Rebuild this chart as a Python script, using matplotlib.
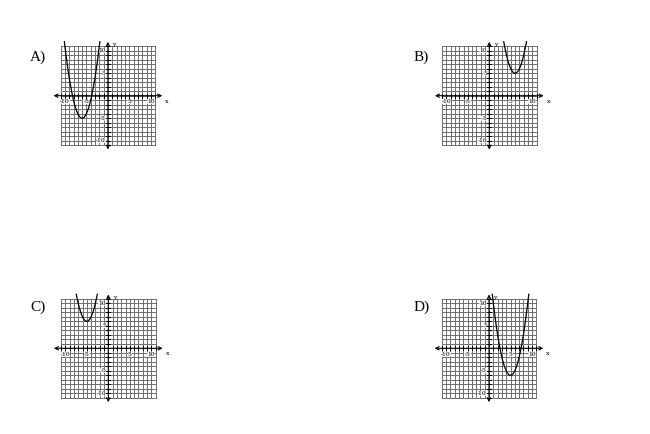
import numpy as np
import matplotlib
matplotlib.use("Agg")
import matplotlib.pyplot as plt

# answer choices: y = a*(x - h)^2 + k
choices = ["A)", "B)", "C)", "D)"]
vert_h = [-6, 6, -5, 5]
vert_k = [-5, 5, 6, -6]
coef_a = [1, 1, 1, 1]
tick_vals = [-10, -5, 5, 10]
tick_text = ["-10", "-5", "5", "10"]

W, H = 650, 434
sx, sy = 4.3, 4.5          # pixels per unit
origins = [(107.9, 95.7), (489.3, 95.7), (108.3, 348.3), (489.0, 348.3)]
letter_pos = [(30, 57), (414, 57), (30, 307), (414, 307)]
LIM = 14

fig = plt.figure(figsize=(W / 100, H / 100), dpi=100)
fig.patch.set_facecolor("white")

for i in range(4):
    ox, oy = origins[i]
    left = (ox - LIM * sx) / W
    bottom = (H - (oy + LIM * sy)) / H
    ax = fig.add_axes([left, bottom, 2 * LIM * sx / W, 2 * LIM * sy / H])
    ax.set_xlim(-LIM, LIM)
    ax.set_ylim(-LIM, LIM)
    ax.axis("off")

    # grid
    for g in range(-11, 12):
        ax.plot([g, g], [-11, 11], color="#6e6e6e", lw=0.7, zorder=1)
        ax.plot([-11, 11], [g, g], color="#6e6e6e", lw=0.7, zorder=1)

    # axes with arrows
    ax.annotate("", xy=(13.3, 0), xytext=(-13.3, 0),
                arrowprops=dict(arrowstyle="<->", lw=0.8, color="black",
                                mutation_scale=6), zorder=3)
    ax.annotate("", xy=(0, 12.6), xytext=(0, -12.6),
                arrowprops=dict(arrowstyle="<->", lw=0.8, color="black",
                                mutation_scale=6), zorder=3)
    for t in range(-11, 12):
        if t == 0:
            continue
        ax.plot([t, t], [-0.45, 0.45], color="black", lw=0.7, zorder=3)
        ax.plot([-0.45, 0.45], [t, t], color="black", lw=0.7, zorder=3)

    for v, s in zip(tick_vals, tick_text):
        ax.text(v, -1.35, s, fontsize=4.2, family="DejaVu Serif",
                ha="center", va="center", zorder=4,
                bbox=dict(fc="white", ec="none", pad=0.1, alpha=0.8))
        ax.text(-0.5, v, s, fontsize=4.2, family="DejaVu Serif",
                ha="right", va="center", zorder=4,
                bbox=dict(fc="white", ec="none", pad=0.1, alpha=0.8))
    ax.text(13.7, -1.2, "x", fontsize=4.5, family="DejaVu Serif",
            ha="center", va="center")
    ax.text(1.4, 11.4, "y", fontsize=4.5, family="DejaVu Serif",
            ha="center", va="center")

    # parabola
    h, k, a = vert_h[i], vert_k[i], coef_a[i]
    half = np.sqrt((12 - k) / a)
    xs = np.linspace(h - half, h + half, 300)
    ys = a * (xs - h) ** 2 + k
    ax.plot(xs, ys, color="black", lw=0.9, zorder=5)

    fig.text(letter_pos[i][0] / W, 1 - letter_pos[i][1] / H, choices[i],
             fontsize=11, family="Liberation Serif", ha="left", va="center")

plt.savefig("out.png", dpi=100, facecolor="white")
